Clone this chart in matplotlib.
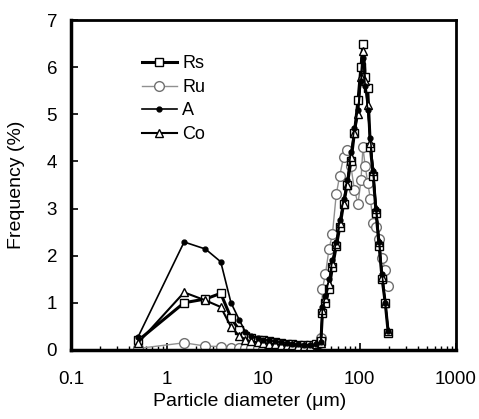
import numpy as np
import matplotlib.pyplot as plt
from matplotlib.ticker import LogLocator, FixedLocator, NullFormatter

plt.rcParams['font.family'] = ['Liberation Sans', 'DejaVu Sans']

# particle diameter grid (um)
diam = [0.5, 1.5, 2.5, 3.6, 4.6, 5.6, 6.5, 7.5, 8.7, 10, 11.5, 13.2, 15.2,
        17.5, 20, 23, 26.5, 30.5, 35, 39.5, 41, 44, 48, 52, 57, 62, 68, 74,
        81, 88, 96, 103, 108, 114, 121, 129, 138, 148, 159, 171, 184, 198]

rs = [0.2, 1.0, 1.08, 1.2, 0.68, 0.42, 0.3, 0.25, 0.22, 0.2, 0.18, 0.16, 0.14,
      0.13, 0.12, 0.11, 0.1, 0.1, 0.12, 0.18, 0.79, 1.0, 1.3, 1.75, 2.2, 2.6,
      3.1, 3.5, 4.0, 4.6, 5.3, 6.0, 6.5, 5.8, 5.55, 4.3, 3.7, 2.9, 2.2, 1.5,
      1.0, 0.35]
ru = [0.03, 0.15, 0.08, 0.07, 0.05, 0.05, 0.04, 0.03, 0.03, 0.02, 0.02, 0.02,
      0.02, 0.02, 0.02, 0.02, 0.03, 0.04, 0.06, 0.25, 1.3, 1.6, 2.15, 2.45,
      3.3, 3.7, 4.1, 4.25, 3.9, 3.4, 3.1, 3.6, 4.3, 3.9, 3.55, 3.2, 2.7, 2.6,
      2.35, 1.95, 1.7, 1.35]
a = [0.28, 2.29, 2.14, 1.87, 1.0, 0.64, 0.38, 0.3, 0.25, 0.22, 0.2, 0.18,
     0.16, 0.14, 0.13, 0.12, 0.11, 0.11, 0.12, 0.16, 0.9, 1.15, 1.5, 1.9, 2.3,
     2.75, 3.2, 3.6, 4.2, 4.7, 5.1, 5.7, 6.2, 5.6, 5.1, 4.5, 3.8, 3.0, 2.3,
     1.6, 1.0, 0.4]
co = [0.15, 1.22, 1.05, 0.91, 0.49, 0.3, 0.22, 0.18, 0.16, 0.15, 0.13, 0.12,
      0.11, 0.1, 0.1, 0.09, 0.09, 0.09, 0.12, 0.15, 0.85, 1.1, 1.4, 1.85,
      2.25, 2.7, 3.1, 3.5, 4.1, 4.6, 5.0, 5.8, 6.35, 5.7, 5.2, 4.4, 3.8, 3.0,
      2.3, 1.55, 1.0, 0.4]

fig = plt.figure(figsize=(4.79, 4.19), dpi=100)
ax = fig.add_axes([0.148, 0.165, 0.804, 0.787])

ax.plot(diam, rs, color='black', lw=2.2, marker='s', ms=5.5, mfc='white',
        mec='black', mew=1.0, label='Rs', zorder=3)
ax.plot(diam, ru, color='#909090', lw=1.0, marker='o', ms=7, mfc='white',
        mec='#707070', mew=1.0, label='Ru', zorder=2)
ax.plot(diam, a, color='black', lw=1.2, marker='o', ms=3.5, mfc='black',
        mec='black', label='A', zorder=4)
ax.plot(diam, co, color='black', lw=1.5, marker='^', ms=6, mfc='white',
        mec='black', mew=1.0, label='Co', zorder=3)

ax.set_xscale('log')
ax.set_xlim(0.1, 1000)
ax.set_ylim(0, 7)
ax.xaxis.set_major_locator(FixedLocator([0.1, 1, 10, 100, 1000]))
ax.set_xticklabels(['0.1', '1', '10', '100', '1000'])
ax.xaxis.set_minor_locator(LogLocator(base=10, subs=np.arange(2, 10)))
ax.xaxis.set_minor_formatter(NullFormatter())
ax.set_yticks(range(0, 8))

ax.tick_params(axis='both', which='major', direction='in', length=5,
               width=1.2, labelsize=13.5)
ax.tick_params(axis='x', which='major', pad=15)
ax.tick_params(axis='y', which='major', pad=10)
ax.tick_params(axis='x', which='minor', direction='in', length=3, width=1)
for side in ['left', 'bottom']:
    ax.spines[side].set_linewidth(2.5)
for side in ['top', 'right']:
    ax.spines[side].set_linewidth(2.0)

ax.set_xlabel('Particle diameter (\u03bcm)', fontsize=14)
ax.set_ylabel('Frequency (%)', fontsize=14)
ax.xaxis.set_label_coords(0.465, -0.13)
ax.yaxis.set_label_coords(-0.12, 0.5)

ax.legend(loc='upper left', bbox_to_anchor=(0.184, 0.893), frameon=False,
          fontsize=13, handlelength=1.95, handletextpad=0.28,
          labelspacing=0.36, borderpad=0, borderaxespad=0)

fig.savefig('out.png', dpi=100)
